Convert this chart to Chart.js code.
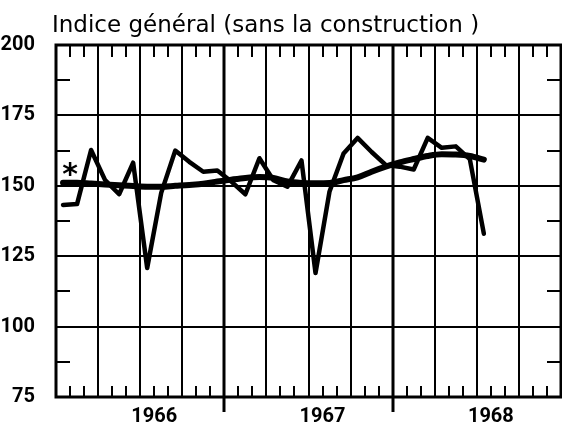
<!DOCTYPE html>
<html>
<head>
<meta charset="utf-8">
<script src="https://cdn.jsdelivr.net/npm/chart.js@4.4.1/dist/chart.umd.min.js"></script>
<style>
html, body { margin: 0; padding: 0; background: #fff; }
</style>
</head>
<body>
<canvas id="myChart" width="562" height="422"></canvas>
<script>
// monthly values, janv. 1966 -> juil. 1968
const months = [
    '1966-01', '1966-02', '1966-03', '1966-04', '1966-05', '1966-06',
    '1966-07', '1966-08', '1966-09', '1966-10', '1966-11', '1966-12',
    '1967-01', '1967-02', '1967-03', '1967-04', '1967-05', '1967-06',
    '1967-07', '1967-08', '1967-09', '1967-10', '1967-11', '1967-12',
    '1968-01', '1968-02', '1968-03', '1968-04', '1968-05', '1968-06',
    '1968-07'
]
const indice = [
    143.2, 143.5, 162.7, 152, 147, 158.2, 120.8, 147.5, 162.5, 158.5, 155, 155.4,
    151.5, 147, 159.8, 152, 149.7, 159, 119, 148, 161.5, 167, 162, 157.4,
    156.8, 155.8, 167, 163.5, 164, 159.5, 133
]
const tendance = [
    151.1, 151.1, 150.8, 150.5, 150.2, 149.9, 149.7, 149.7, 150, 150.3, 150.7, 151.5,
    152.2, 152.8, 153.1, 152.8, 151.5, 151, 150.9, 151, 152, 153, 155, 156.8,
    158.3, 159.5, 160.6, 161.2, 161.1, 160.6, 159.3
]
const years = ['1966', '1967', '1968']
const yTicks = [75, 100, 125, 150, 175, 200]

const title = 'Indice général (sans la construction )'
const labelFont = { family: 'Roboto, "Liberation Sans", sans-serif', size: 20, weight: 'bold' }

// points sit in the middle of each month
function toPoints(values) {
    return values.map((v, i) => ({ x: i + 0.5, y: v }))
}

// grid, ticks, frame, title and the star, drawn with the chart's scales
const paperPlugin = {
    id: 'paper',
    beforeDatasetsDraw(chart) {
        const { ctx, chartArea: a, scales: { x, y } } = chart
        ctx.save()
        ctx.strokeStyle = '#000'
        ctx.lineCap = 'butt'

        // horizontal grid
        ctx.lineWidth = 2
        for (let v = 100; v < 200; v += 25) {
            const py = Math.round(y.getPixelForValue(v))
            ctx.beginPath(); ctx.moveTo(a.left, py); ctx.lineTo(a.right, py); ctx.stroke()
        }
        // vertical grid every quarter
        for (let m = 3; m < 36; m += 3) {
            const px = Math.round(x.getPixelForValue(m))
            ctx.lineWidth = (m % 12 === 0) ? 3 : 2
            ctx.beginPath(); ctx.moveTo(px, a.top); ctx.lineTo(px, a.bottom); ctx.stroke()
            if (m % 12 === 0) {
                ctx.beginPath(); ctx.moveTo(px, a.bottom); ctx.lineTo(px, a.bottom + 15); ctx.stroke()
            }
        }
        // monthly ticks top and bottom
        ctx.lineWidth = 2
        for (let m = 1; m < 36; m++) {
            const px = Math.round(x.getPixelForValue(m))
            ctx.beginPath(); ctx.moveTo(px, a.top); ctx.lineTo(px, a.top + 12); ctx.stroke()
            ctx.beginPath(); ctx.moveTo(px, a.bottom); ctx.lineTo(px, a.bottom - 11); ctx.stroke()
        }
        // half-step ticks left and right
        for (let v = 87.5; v < 200; v += 25) {
            const py = Math.round(y.getPixelForValue(v))
            ctx.beginPath(); ctx.moveTo(a.left, py); ctx.lineTo(a.left + 14, py); ctx.stroke()
            ctx.beginPath(); ctx.moveTo(a.right, py); ctx.lineTo(a.right - 14, py); ctx.stroke()
        }
        ctx.restore()
    },
    afterDraw(chart) {
        const { ctx, chartArea: a, scales: { x, y } } = chart
        ctx.save()
        ctx.strokeStyle = '#000'
        ctx.lineWidth = 3
        ctx.strokeRect(a.left, a.top, a.right - a.left, a.bottom - a.top)

        ctx.fillStyle = '#000'
        ctx.font = '23px "DejaVu Sans", sans-serif'
        ctx.textBaseline = 'alphabetic'
        ctx.textAlign = 'left'
        ctx.fillText(title, 52, 32)

        ctx.font = 'bold 30px "DejaVu Sans", sans-serif'
        ctx.textAlign = 'center'
        ctx.textBaseline = 'middle'
        ctx.fillText('*', x.getPixelForValue(1), y.getPixelForValue(153.5))
        ctx.restore()
    }
}

let ctx = document.getElementById('myChart').getContext('2d')
let myChart = new Chart(ctx, {
    type: 'line',
    data: {
        labels: months,
        datasets: [{
            label: 'Indice',
            data: toPoints(indice),
            borderColor: '#000',
            borderWidth: 4.5,
            borderJoinStyle: 'round',
            borderCapStyle: 'round',
            pointRadius: 0,
            tension: 0
        }, {
            label: 'Tendance',
            data: toPoints(tendance),
            borderColor: '#000',
            borderWidth: 6,
            borderCapStyle: 'round',
            pointRadius: 0,
            cubicInterpolationMode: 'monotone'
        }]
    },
    options: {
        responsive: false,
        animation: false,
        layout: { padding: { top: 45, left: 0, right: 1, bottom: 0 } },
        plugins: {
            legend: { display: false },
            tooltip: { enabled: false }
        },
        scales: {
            x: {
                type: 'linear',
                min: 0,
                max: 36,
                grid: { display: false },
                border: { display: false },
                afterBuildTicks: (scale) => {
                    scale.ticks = years.map((yr, i) => ({ value: i * 12 + 7 }))
                },
                afterFit: (scale) => { scale.height = 25 },
                ticks: {
                    autoSkip: false,
                    maxRotation: 0,
                    padding: 0,
                    color: '#000',
                    font: labelFont,
                    callback: (v) => years[Math.floor(v / 12)]
                }
            },
            y: {
                min: 75,
                max: 200,
                grid: { display: false },
                border: { display: false },
                afterBuildTicks: (scale) => {
                    scale.ticks = yTicks.map(v => ({ value: v }))
                },
                afterFit: (scale) => { scale.width = 56 },
                ticks: {
                    padding: 13,
                    color: '#000',
                    font: labelFont
                }
            }
        }
    },
    plugins: [paperPlugin]
})
</script>
</body>
</html>
